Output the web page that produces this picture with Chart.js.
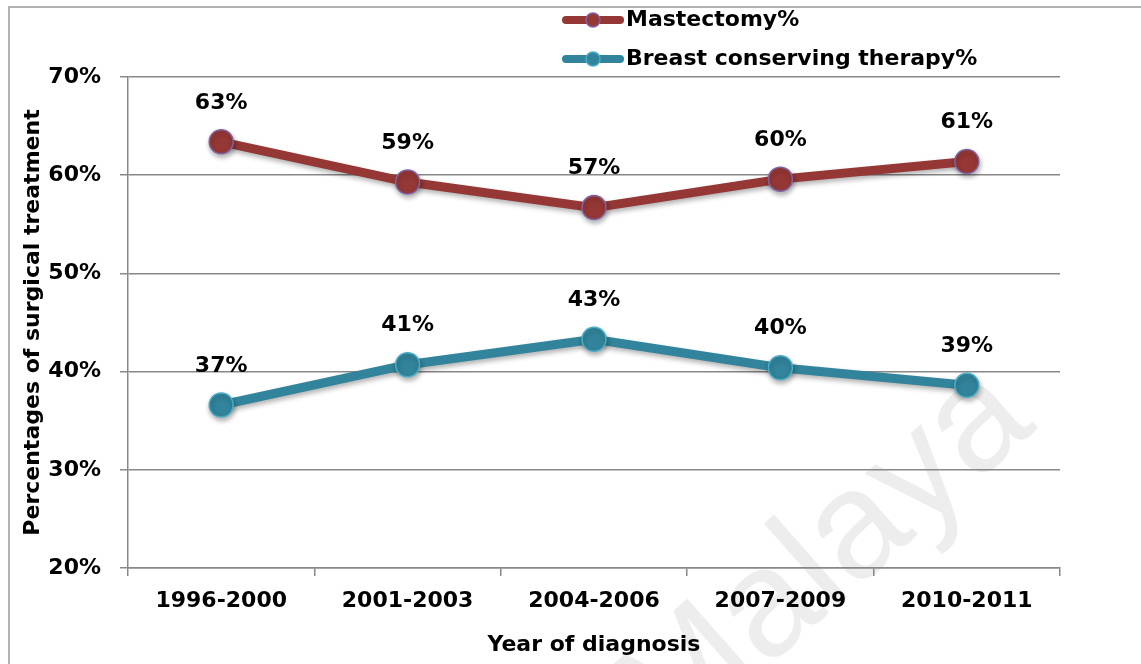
<!DOCTYPE html>
<html>
<head>
<meta charset="utf-8">
<script src="https://cdn.jsdelivr.net/npm/chart.js@4.4.0/dist/chart.umd.min.js"></script>
<style>
  html, body { margin: 0; padding: 0; background: #fff; }
  canvas { display: block; }
</style>
</head>
<body>
<canvas id="surgeryChart" width="1141" height="664"></canvas>
<script>
// periods and share of each surgical treatment (%)
const periods = ['1996-2000', '2001-2003', '2004-2006', '2007-2009', '2010-2011'];
const mastectomy = [63.4, 59.3, 56.7, 59.6, 61.4];
const conserving = [36.6, 40.7, 43.3, 40.4, 38.6];
const seriesNames = ['Mastectomy%', 'Breast conserving therapy%'];

const FONT = 'bold 22px "DejaVu Sans"';

// frame + faint watermark behind the plot
const backdrop = {
    id: 'backdrop',
    beforeDraw(chart) {
        const ctx = chart.ctx;
        ctx.save();
        ctx.fillStyle = '#fff';
        ctx.fillRect(0, 0, chart.width, chart.height);
        ctx.strokeStyle = '#9a9a9a';
        ctx.lineWidth = 1.5;
        ctx.beginPath();
        ctx.moveTo(9, chart.height);
        ctx.lineTo(9, 7);
        ctx.lineTo(chart.width, 7);
        ctx.stroke();

        ctx.translate(1038, 428);
        ctx.rotate(-41.5 * Math.PI / 180);
        ctx.fillStyle = '#ededed';
        ctx.font = '152px "Liberation Sans"';
        ctx.textAlign = 'right';
        ctx.textBaseline = 'alphabetic';
        ctx.fillText('Malaya', 0, 0);
        ctx.restore();
    }
};

// soft shadow under the lines and markers
const lineShadow = {
    id: 'lineShadow',
    beforeDatasetsDraw(chart) {
        const ctx = chart.ctx;
        ctx.save();
        ctx.shadowColor = 'rgba(0,0,0,0.3)';
        ctx.shadowBlur = 5;
        ctx.shadowOffsetX = 1;
        ctx.shadowOffsetY = 3;
    },
    afterDatasetsDraw(chart) {
        chart.ctx.restore();
    }
};

// value labels above each point
const valueLabels = {
    id: 'valueLabels',
    afterDatasetsDraw(chart) {
        const ctx = chart.ctx;
        ctx.save();
        ctx.font = FONT;
        ctx.fillStyle = '#000';
        ctx.textAlign = 'center';
        ctx.textBaseline = 'middle';
        chart.data.datasets.forEach((ds, i) => {
            chart.getDatasetMeta(i).data.forEach((pt, j) => {
                ctx.fillText(Math.round(ds.data[j]) + '%', pt.x, pt.y - 39);
            });
        });
        ctx.restore();
    }
};

// stacked legend at the top
const topLegend = {
    id: 'topLegend',
    afterDraw(chart) {
        const ctx = chart.ctx;
        ctx.save();
        chart.data.datasets.forEach((ds, i) => {
            const y = 20 + 39 * i;
            ctx.strokeStyle = ds.borderColor;
            ctx.lineWidth = 8;
            ctx.lineCap = 'round';
            ctx.beginPath();
            ctx.moveTo(566, y);
            ctx.lineTo(620, y);
            ctx.stroke();
            ctx.beginPath();
            ctx.arc(593, y, 7, 0, Math.PI * 2);
            ctx.fillStyle = ds.pointBackgroundColor;
            ctx.fill();
            ctx.lineWidth = 1.5;
            ctx.strokeStyle = ds.pointBorderColor;
            ctx.stroke();
            ctx.font = FONT;
            ctx.fillStyle = '#000';
            ctx.textAlign = 'left';
            ctx.textBaseline = 'middle';
            ctx.fillText(ds.label, 626, y);
        });
        ctx.restore();
    }
};

new Chart(document.getElementById('surgeryChart'), {
    type: 'line',
    data: {
        labels: periods,
        datasets: [{
            label: seriesNames[0],
            data: mastectomy,
            borderColor: '#953735',
            borderWidth: 9,
            pointRadius: 12,
            pointBackgroundColor: '#953735',
            pointBorderColor: '#8064a2',
            pointBorderWidth: 1.5,
            tension: 0
        }, {
            label: seriesNames[1],
            data: conserving,
            borderColor: '#31849b',
            borderWidth: 9,
            pointRadius: 12,
            pointBackgroundColor: '#31849b',
            pointBorderColor: '#4bacc6',
            pointBorderWidth: 1.5,
            tension: 0
        }]
    },
    options: {
        responsive: false,
        animation: false,
        layout: { padding: { top: 77, right: 81, bottom: 0, left: 0 } },
        plugins: {
            legend: { display: false },
            tooltip: { enabled: false }
        },
        scales: {
            x: {
                offset: true,
                grid: { offset: true, drawOnChartArea: false, drawTicks: true, tickLength: 8, color: '#888', lineWidth: 1.5 },
                border: { color: '#888', width: 1.5 },
                ticks: { color: '#000', font: { family: 'DejaVu Sans', weight: 'bold', size: 22 }, padding: 12, maxRotation: 0 },
                title: { display: true, text: 'Year of diagnosis', color: '#000', font: { family: 'DejaVu Sans', weight: 'bold', size: 22 }, padding: { top: 0, bottom: 6 } },
                afterFit(s) { s.height = 96; }
            },
            y: {
                min: 20,
                max: 70,
                ticks: { stepSize: 10, color: '#000', font: { family: 'DejaVu Sans', weight: 'bold', size: 22 }, padding: 19, callback: v => v + '%' },
                grid: { color: '#888', lineWidth: 1.5, tickLength: 8 },
                border: { color: '#888', width: 1.5 },
                title: { display: true, text: 'Percentages of surgical treatment', color: '#000', font: { family: 'DejaVu Sans', weight: 'bold', size: 22 }, padding: { top: 20, bottom: 0 } },
                afterFit(s) { s.width = 128; }
            }
        }
    },
    plugins: [backdrop, lineShadow, valueLabels, topLegend]
});
</script>
</body>
</html>
